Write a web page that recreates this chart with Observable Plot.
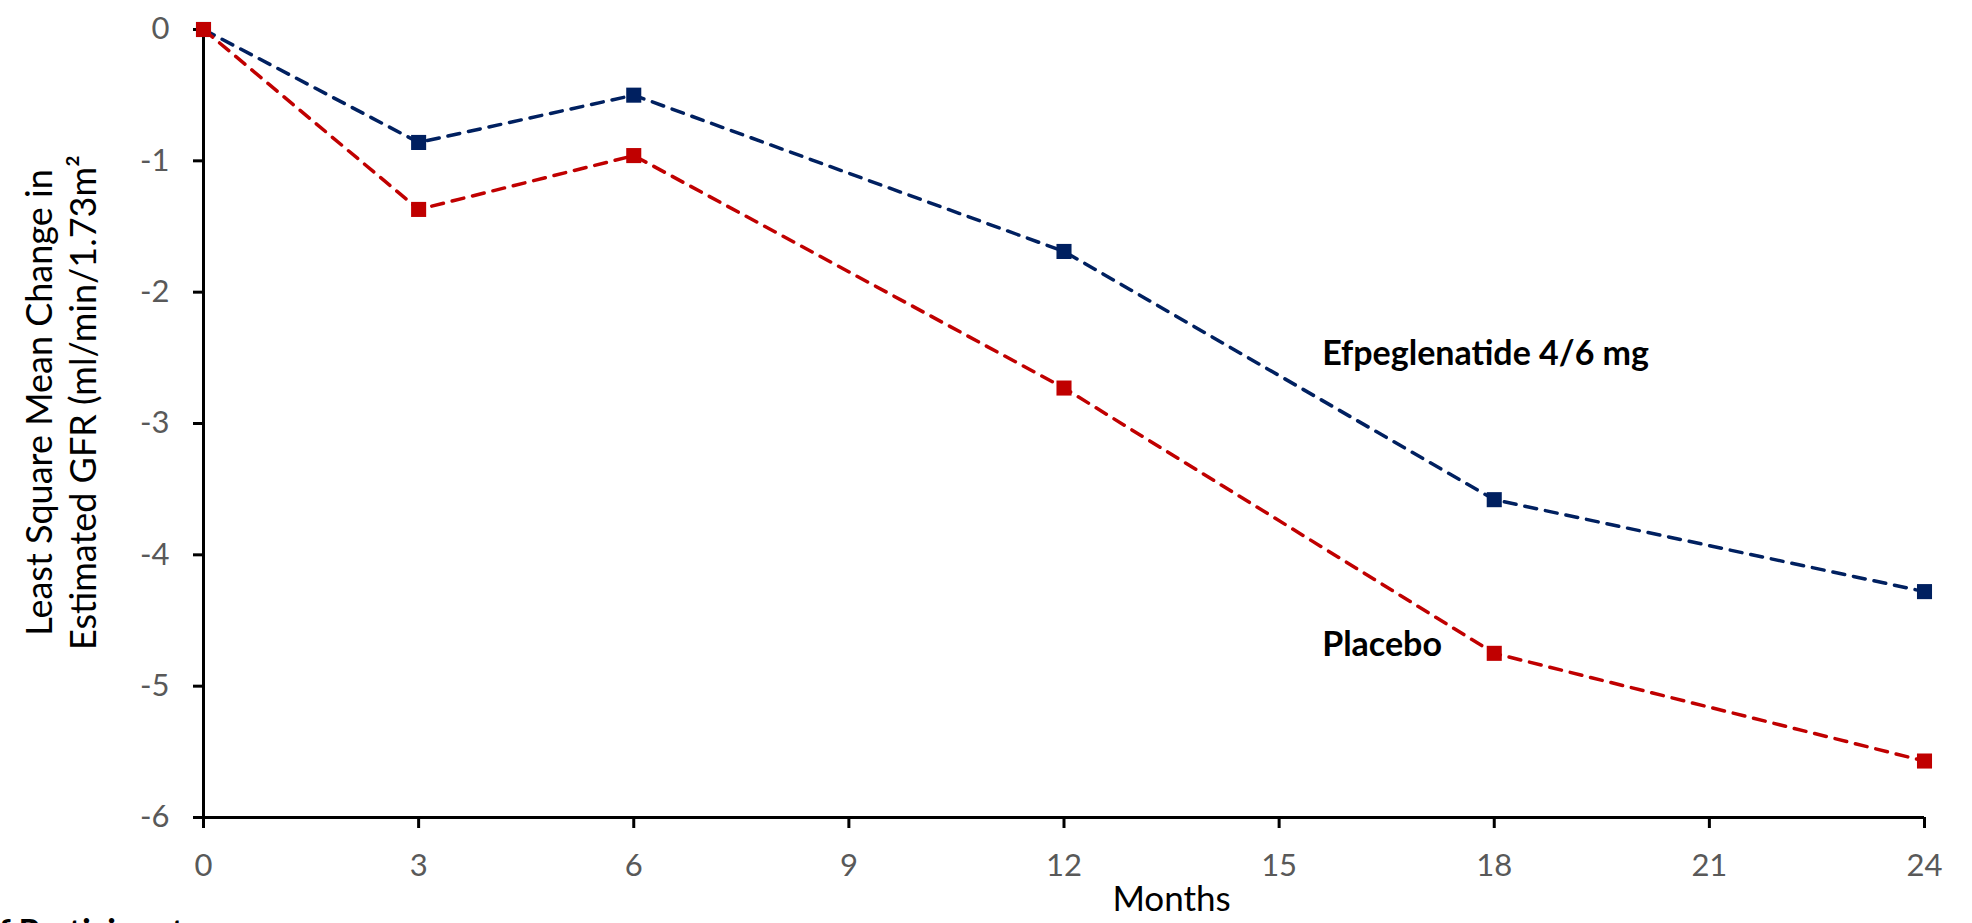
<!DOCTYPE html>
<html>
<head>
<meta charset="utf-8">
<script src="https://cdn.jsdelivr.net/npm/d3@7"></script>
<script src="https://cdn.jsdelivr.net/npm/@observablehq/plot@0.6"></script>
<style>
  html, body { margin: 0; padding: 0; background: #ffffff; overflow: hidden; }
  #chart { width: 1972px; height: 923px; }
</style>
</head>
<body>
<div id="chart"></div>
<script>
// ---- data ----
const months = [0, 3, 6, 12, 18, 24];
const efpeglenatide = [0, -0.86, -0.50, -1.69, -3.58, -4.28];
const placebo = [0, -1.37, -0.96, -2.73, -4.75, -5.57];
const seriesNames = ["Efpeglenatide 4/6 mg", "Placebo"];
const seriesColors = ["#002060", "#C00000"];
const xTicks = [0, 3, 6, 9, 12, 15, 18, 21, 24];
const yTicks = [0, -1, -2, -3, -4, -5, -6];
const labelX = [15.6, 15.6];
const labelY = [-2.47, -4.69];
const xTitle = "Months";
const yTitle1 = "Least Square Mean Change in";
const yTitle2 = "Estimated GFR (ml/min/1.73m²";
const footText = "of Participants";

const rows = [];
seriesNames.forEach((name, si) => {
  const vals = si === 0 ? efpeglenatide : placebo;
  months.forEach((m, i) => rows.push({series: name, month: m, value: vals[i]}));
});
const labels = seriesNames.map((name, i) => ({series: name, x: labelX[i], y: labelY[i]}));

const font = "Lato, 'Open Sans', sans-serif";
const fmt = d => String(d);

const chart = Plot.plot({
  width: 1972,
  height: 923,
  marginLeft: 203,
  marginRight: 48,
  marginTop: 29,
  marginBottom: 106,
  style: {fontFamily: font, background: "transparent", overflow: "visible"},
  x: {domain: [0, 24]},
  y: {domain: [-6, 0]},
  color: {domain: seriesNames, range: seriesColors},
  marks: [
    Plot.axisY(yTicks, {tickSize: 10, tickPadding: 24, fontSize: 31, fill: "#595959", stroke: "#000", strokeWidth: 3, tickFormat: fmt, label: null}),
    Plot.axisX(xTicks, {tickSize: 11, tickPadding: 25, fontSize: 31, fill: "#595959", stroke: "#000", strokeWidth: 3, tickFormat: fmt, label: null}),
    Plot.ruleX([0], {stroke: "#000", strokeWidth: 3}),
    Plot.ruleY([-6], {stroke: "#000", strokeWidth: 3}),
    Plot.line(rows, {x: "month", y: "value", z: "series", stroke: "series", strokeWidth: 3.5, strokeDasharray: "12,9", strokeLinecap: "round"}),
    Plot.dot(rows, {x: "month", y: "value", fill: "series", symbol: "square", r: 8.5}),
    Plot.text(labels, {x: "x", y: "y", text: "series", textAnchor: "start", fontSize: 34, fontWeight: "bold", fill: "#000"}),
    Plot.text([xTitle], {x: () => 13.5, frameAnchor: "bottom", dy: 93, fontSize: 35, fill: "#000"}),
    Plot.text([yTitle1], {frameAnchor: "left", textAnchor: "middle", dx: -163, dy: -21, rotate: -90, fontSize: 36, fill: "#000"}),
    Plot.text([yTitle2], {frameAnchor: "left", textAnchor: "middle", dx: -119, dy: -21, rotate: -90, fontSize: 36, fill: "#000"}),
    Plot.text([footText], {frameAnchor: "bottom-left", dx: -224, dy: 126, textAnchor: "start", fontSize: 34, fontWeight: "bold", fill: "#000"})
  ]
});
document.getElementById("chart").append(chart);
</script>
</body>
</html>
